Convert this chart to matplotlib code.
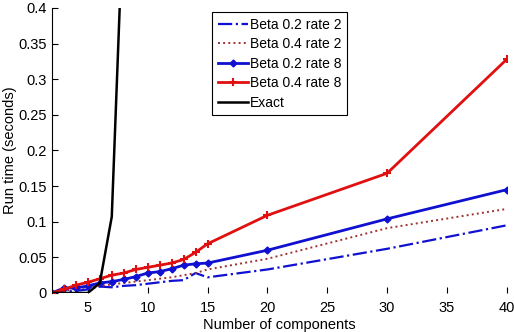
import numpy as np
import matplotlib
matplotlib.use("Agg")
import matplotlib.pyplot as plt
from matplotlib.ticker import FormatStrFormatter

plt.rcParams["font.family"] = ["Liberation Sans", "DejaVu Sans"]

# number of components
n_comp = [2, 3, 4, 5, 6, 7, 8, 9, 10, 11, 12, 13, 14, 15, 20, 30, 40]

# run times
beta02_rate2 = [0, 0.002, 0.003, 0.005, 0.009, 0.008, 0.010, 0.011, 0.013,
                0.015, 0.017, 0.018, 0.028, 0.022, 0.033, 0.062, 0.095]
beta04_rate2 = [0, 0.003, 0.006, 0.008, 0.010, 0.012, 0.014, 0.016, 0.018,
                0.020, 0.022, 0.025, 0.028, 0.033, 0.048, 0.091, 0.118]
beta02_rate8 = [0, 0.007, 0.007, 0.010, 0.014, 0.016, 0.019, 0.023, 0.028,
                0.030, 0.034, 0.039, 0.041, 0.042, 0.060, 0.104, 0.145]
beta04_rate8 = [0, 0.005, 0.011, 0.015, 0.020, 0.025, 0.028, 0.033, 0.036,
                0.039, 0.042, 0.047, 0.057, 0.069, 0.109, 0.168, 0.328]

exact_comp = [2, 3, 4, 5, 6, 7, 8]
exact_time = [0, 0, 0, 0, 0.014, 0.107, 0.55]

fig = plt.figure(figsize=(5.14, 3.32), dpi=100)
ax = fig.add_axes([0.101, 0.1175, 0.885, 0.8585])

ax.plot(n_comp, beta02_rate2, color="#1010d0", ls="-.", lw=1.6, label="Beta 0.2 rate 2")
ax.plot(n_comp, beta04_rate2, color="#a03030", ls=":", lw=1.4, label="Beta 0.4 rate 2")
ax.plot(n_comp, beta02_rate8, color="#1010d0", ls="-", lw=2, marker="D", ms=3.5,
        label="Beta 0.2 rate 8")
ax.plot(n_comp, beta04_rate8, color="#e01010", ls="-", lw=2, marker="+", ms=6, mew=1.5,
        label="Beta 0.4 rate 8")
ax.plot(exact_comp, exact_time, color="black", lw=1.8, label="Exact")

ax.set_xlim(2, 40)
ax.set_ylim(0, 0.4)
ax.set_xticks([5, 10, 15, 20, 25, 30, 35, 40])
ax.set_yticks(np.arange(0, 0.41, 0.05))
ax.yaxis.set_major_formatter(FormatStrFormatter("%g"))
ax.tick_params(direction="in", length=4, labelsize=10.5)
ax.tick_params(axis="x", pad=6)

ax.spines["top"].set_visible(False)
ax.spines["right"].set_visible(False)
ax.spines["bottom"].set_visible(False)

ax.set_xlabel("Number of components", fontsize=10.5, labelpad=2)
ax.set_ylabel("Run time (seconds)", fontsize=10.5, labelpad=1)

leg = ax.legend(loc="upper left", bbox_to_anchor=(0.352, 0.986), borderaxespad=0,
                fontsize=10, handlelength=2.2, handletextpad=0.15, borderpad=0.4,
                labelspacing=0.4, fancybox=False, framealpha=1)
leg.get_frame().set_edgecolor("black")
leg.get_frame().set_linewidth(0.8)

fig.savefig("out.png", dpi=100)
